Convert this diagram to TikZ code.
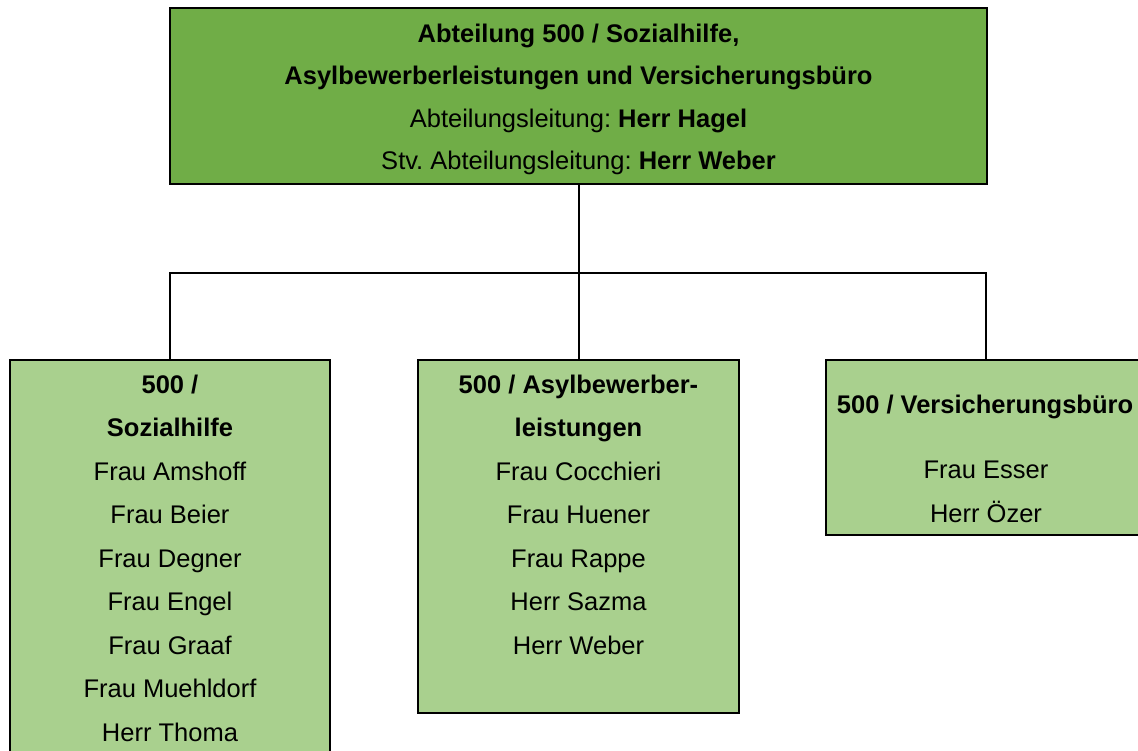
\documentclass[tikz,border=0pt]{standalone}
\usepackage{fontspec}
\setmainfont{Liberation Sans}
\frenchspacing
\definecolor{topgreen}{HTML}{70AD47}
\definecolor{subgreen}{HTML}{A9D08E}
\begin{document}
\begin{tikzpicture}[x=1pt,y=-1pt,
  topbox/.style={draw=black,line width=2.5pt,fill=topgreen,rectangle,inner sep=0pt},
  subbox/.style={draw=black,line width=2.2pt,fill=subgreen,rectangle,inner sep=0pt},
  txt/.style={anchor=base,inner sep=0pt,font=\fontsize{25.5}{30}\selectfont\frenchspacing},
  conn/.style={draw=black,line width=2pt}]
\clip (0,0) rectangle (1138,751);
\fill[white] (0,0) rectangle (1138,751);
% boxes
\node[topbox,minimum width=817pt,minimum height=176pt] (top) at (578.5,96) {};
\node[subbox,minimum width=320pt,minimum height=420pt] (left) at (170,570) {};
\node[subbox,minimum width=321pt,minimum height=353pt] (mid) at (578.5,536.5) {};
\node[subbox,minimum width=320pt,minimum height=175pt] (right) at (986,447.5) {};
% connectors
\coordinate (j) at (578.5,273);
\draw[conn] (top.south) -- (j);
\draw[conn] (left.north) |- (j) -| (right.north);
\draw[conn] (j) -- (mid.north);
% top texts
\node[txt] (t1) at (578.5,43) {\textbf{Abteilung 500 / Sozialhilfe,}};
\node[txt] (t2) at (578.5,85) {\textbf{Asylbewerberleistungen und Versicherungsbüro}};
\node[txt] (t3) at (578.5,128) {Abteilungsleitung: \textbf{Herr Hagel}};
\node[txt] (t4) at (578.5,170) {Stv. Abteilungsleitung: \textbf{Herr Weber}};
% left texts
\node[txt] (l1) at (170,393) {\textbf{500 /}};
\node[txt] (l2) at (170,436.5) {\textbf{Sozialhilfe}};
\node[txt] (l3) at (170,480) {Frau Amshoff};
\node[txt] (l4) at (170,523.5) {Frau Beier};
\node[txt] (l5) at (170,567) {Frau Degner};
\node[txt] (l6) at (170,610.5) {Frau Engel};
\node[txt] (l7) at (170,654) {Frau Graaf};
\node[txt] (l8) at (170,697.5) {Frau Muehldorf};
\node[txt] (l9) at (170,741) {Herr Thoma};
% middle texts
\node[txt] (m1) at (578.5,393) {\textbf{500 / Asylbewerber-}};
\node[txt] (m2) at (578.5,436.5) {\textbf{leistungen}};
\node[txt] (m3) at (578.5,480) {Frau Cocchieri};
\node[txt] (m4) at (578.5,523.5) {Frau Huener};
\node[txt] (m5) at (578.5,567) {Frau Rappe};
\node[txt] (m6) at (578.5,610.5) {Herr Sazma};
\node[txt] (m7) at (578.5,654) {Herr Weber};
% right texts
\node[txt] (r1) at (985,413) {\textbf{500 / Versicherungsbüro}};
\node[txt] (r2) at (986,478) {Frau Esser};
\node[txt] (r3) at (986,522) {Herr Özer};
\end{tikzpicture}
\end{document}
